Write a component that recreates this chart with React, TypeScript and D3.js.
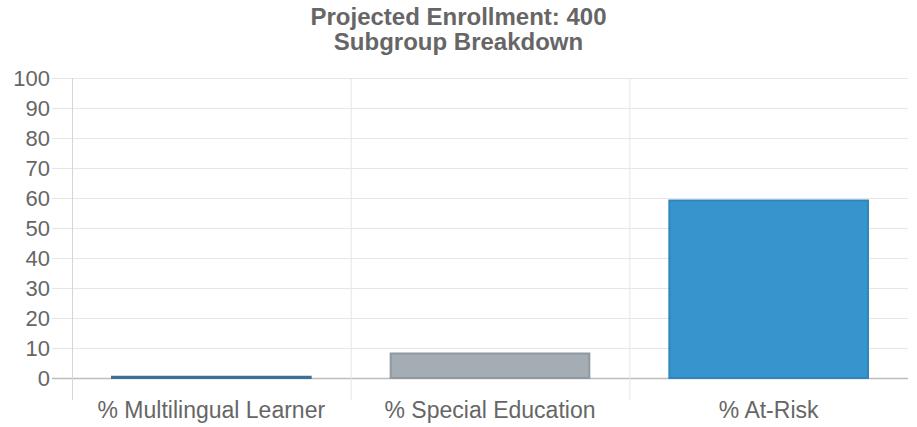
import { useEffect, useRef } from 'react';
import * as d3 from 'd3';

const titleLines = ['Projected Enrollment: 400', 'Subgroup Breakdown'];
const categories = ['% Multilingual Learner', '% Special Education', '% At-Risk'];
const values = [0.75, 8.5, 59.5];
const fills = ['#4a7fa6', '#a3adb3', '#3794cd'];
const strokes = ['#3d6f94', '#8f999f', '#2f86bd'];
const yTicks = [0, 10, 20, 30, 40, 50, 60, 70, 80, 90, 100];

export default function App() {
  const ref = useRef<SVGSVGElement>(null);

  useEffect(() => {
    if (!ref.current) return;
    const svg = d3.select(ref.current);
    svg.selectAll('*').remove();

    const W = 917;
    const H = 427;
    const m = { left: 72, right: 9, top: 78, bottom: 49 };
    const font = 'Liberation Sans, Arial, sans-serif';

    const x = d3.scaleBand().domain(categories).range([m.left, W - m.right]);
    const y = d3.scaleLinear().domain([0, 100]).range([H - m.bottom, m.top]);

    // title
    titleLines.forEach((t, i) => {
      svg.append('text')
        .attr('x', W / 2)
        .attr('y', 25 + i * 25)
        .attr('text-anchor', 'middle')
        .attr('fill', '#666')
        .attr('font-weight', 'bold')
        .attr('font-size', '24px')
        .attr('font-family', font)
        .text(t);
    });

    // horizontal grid + y labels
    yTicks.forEach((v) => {
      svg.append('line')
        .attr('x1', m.left - 20).attr('x2', W - m.right)
        .attr('y1', y(v) + 0.5).attr('y2', y(v) + 0.5)
        .attr('stroke', v === 0 ? '#bdbdbd' : '#e6e6e6')
        .attr('stroke-width', v === 0 ? 1.5 : 1);
      svg.append('text')
        .attr('x', m.left - 22)
        .attr('y', y(v))
        .attr('dy', '0.35em')
        .attr('text-anchor', 'end')
        .attr('fill', '#666')
        .attr('font-size', '22px')
        .attr('font-family', font)
        .text(v);
    });

    // vertical grid
    const edges = categories.map((c) => x(c)!);
    edges.forEach((ex, i) => {
      svg.append('line')
        .attr('x1', ex + 0.5).attr('x2', ex + 0.5)
        .attr('y1', m.top).attr('y2', H - m.bottom + 22)
        .attr('stroke', i === 0 ? '#d6d6d6' : '#e6e6e6')
        .attr('stroke-width', 1);
    });

    // bars + category labels
    const bw = x.bandwidth() * 0.72;
    categories.forEach((c, i) => {
      const cx = x(c)! + x.bandwidth() / 2;
      svg.append('rect')
        .attr('x', cx - bw / 2 + 1)
        .attr('y', y(values[i]) + 1)
        .attr('width', bw - 2)
        .attr('height', Math.max(0, y(0) - y(values[i]) - 1))
        .attr('fill', fills[i])
        .attr('stroke', strokes[i])
        .attr('stroke-width', 2);
      svg.append('text')
        .attr('x', cx)
        .attr('y', H - m.bottom + 40)
        .attr('text-anchor', 'middle')
        .attr('fill', '#666')
        .attr('font-size', '23px')
        .attr('font-family', font)
        .text(c);
    });
  }, []);

  return (
    <div style={{ position: 'absolute', left: 0, top: 0 }}>
      <svg ref={ref} width={917} height={427} style={{ display: 'block', background: '#fff' }} />
    </div>
  );
}
